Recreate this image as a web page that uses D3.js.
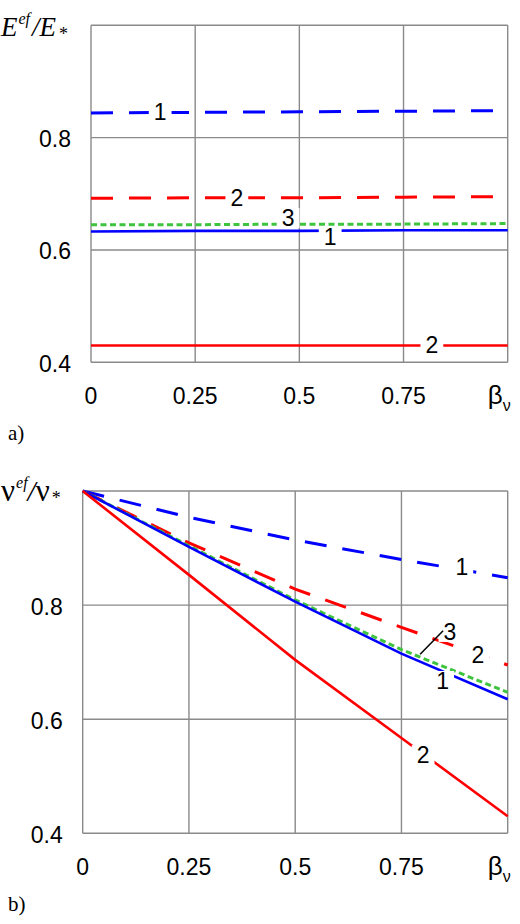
<!DOCTYPE html>
<html>
<head>
<meta charset="utf-8">
<script src="https://cdn.jsdelivr.net/npm/d3@7"></script>
<style>
  body { margin: 0; background: #fff; }
  svg { display: block; }
  .tick { font-family: "Liberation Sans", Arial, sans-serif; font-size: 23px; fill: #000; }
  .serif { font-family: "Liberation Serif", "Times New Roman", serif; fill: #000; }
</style>
</head>
<body>
<svg id="chart" width="520" height="924"></svg>
<script>
// beta_nu values where the curves were read
var beta = [0, 0.25, 0.5, 0.75, 1];
var xTicks = [0, 0.25, 0.5, 0.75];
var xGrid = [0, 0.25, 0.5, 0.75, 1];
var yTicks = [0.4, 0.6, 0.8];
var yGrid = [0.4, 0.6, 0.8, 1.0];

// panel a) E_ef / E_*
var eBlueDash = [0.844, 0.845, 0.846, 0.847, 0.848];
var eRedDash = [0.692, 0.693, 0.693, 0.694, 0.695];
var eGreenDash = [0.645, 0.645, 0.646, 0.646, 0.647];
var eBlue = [0.633, 0.634, 0.634, 0.635, 0.635];
var eRed = [0.430, 0.430, 0.430, 0.430, 0.430];

// panel b) nu_ef / nu_*
var nuBlueDash = [1, 0.954, 0.914, 0.880, 0.848];
var nuRedDash = [1, 0.909, 0.828, 0.761, 0.695];
var nuGreenDash = [1, 0.904, 0.809, 0.722, 0.647];
var nuBlue = [1, 0.902, 0.806, 0.715, 0.635];
var nuRed = [1, 0.853, 0.704, 0.567, 0.430];

// curve labels: [text, beta, value]
var eLabels = [["1", 0.166, 0.845], ["2", 0.35, 0.693], ["3", 0.473, 0.657],
               ["1", 0.574, 0.623], ["2", 0.818, 0.431]];
var nuLabels = [["1", 0.892, 0.867], ["3", 0.864, 0.753], ["2", 0.930, 0.713],
                ["1", 0.847, 0.667], ["2", 0.801, 0.537]];
var nuLeader = [[0.848, 0.755], [0.794, 0.714]];

var BLUE = "#0000ff", RED = "#ff0000", GREEN = "#3ec43e";

function styles() {
    return [
        {color: BLUE, dash: "22,16", width: 3},
        {color: RED, dash: "22,16", width: 3},
        {color: GREEN, dash: "6,3.5", width: 3},
        {color: BLUE, dash: null, width: 2.6},
        {color: RED, dash: null, width: 2.6}
    ];
}

function drawPanel(svg, p) {
    var x = d3.scaleLinear().domain([0, 1]).range([p.left, p.right]);
    var y = d3.scaleLinear().domain([0.4, 1.0]).range([p.bottom, p.top]);
    var g = svg.append("g");

    // grid
    g.selectAll(".vgrid").data(xGrid).enter().append("line")
        .attr("x1", function(d) { return x(d); }).attr("x2", function(d) { return x(d); })
        .attr("y1", p.top).attr("y2", p.bottom)
        .attr("stroke", "#8a8a8a").attr("stroke-width", 1.4);
    g.selectAll(".hgrid").data(yGrid).enter().append("line")
        .attr("x1", p.left).attr("x2", p.right)
        .attr("y1", function(d) { return y(d); }).attr("y2", function(d) { return y(d); })
        .attr("stroke", "#8a8a8a").attr("stroke-width", 1.4);

    // tick labels
    g.selectAll(".ytick").data(yTicks).enter().append("text")
        .attr("class", "tick")
        .attr("x", p.left - 20).attr("y", function(d) { return y(d) + 9.5; })
        .attr("text-anchor", "end")
        .text(function(d) { return d3.format(".1f")(d); });
    g.selectAll(".xtick").data(xTicks).enter().append("text")
        .attr("class", "tick")
        .attr("x", function(d) { return x(d); }).attr("y", p.bottom + 42)
        .attr("text-anchor", "middle")
        .text(function(d) { return String(d); });

    var bl = g.append("text").attr("class", "tick")
        .attr("x", x(1) - 20).attr("y", p.bottom + 42);
    bl.append("tspan").text("β").style("font-size", "26px");
    bl.append("tspan").text("ν").attr("dy", 7).style("font-size", "16px");

    // curves
    var line = d3.line()
        .x(function(d, i) { return x(beta[i]); })
        .y(function(d) { return y(d); });
    var st = styles();
    p.series.forEach(function(s, i) {
        g.append("path")
            .attr("d", line(s))
            .attr("fill", "none")
            .attr("stroke", st[i].color)
            .attr("stroke-width", st[i].width)
            .attr("stroke-dasharray", st[i].dash);
    });

    // curve labels with white gap behind
    p.labels.forEach(function(l) {
        var t = g.append("text").attr("class", "tick")
            .attr("x", x(l[1])).attr("y", y(l[2]))
            .attr("text-anchor", "middle")
            .attr("dominant-baseline", "central")
            .text(l[0]);
        var b = t.node().getBBox();
        g.insert("rect", function() { return t.node(); })
            .attr("x", b.x - 5).attr("y", b.y + 3)
            .attr("width", b.width + 10).attr("height", b.height - 6)
            .attr("fill", "#fff");
    });

    if (p.leader) {
        g.append("line")
            .attr("x1", x(p.leader[0][0])).attr("y1", y(p.leader[0][1]))
            .attr("x2", x(p.leader[1][0])).attr("y2", y(p.leader[1][1]))
            .attr("stroke", "#000").attr("stroke-width", 1.5);
    }
    return g;
}

var svg = d3.select("#chart");

drawPanel(svg, {
    left: 91, right: 507.7, top: 25.3, bottom: 362.3,
    series: [eBlueDash, eRedDash, eGreenDash, eBlue, eRed],
    labels: eLabels
});

drawPanel(svg, {
    left: 82.7, right: 507.7, top: 491, bottom: 833.3,
    series: [nuBlueDash, nuRedDash, nuGreenDash, nuBlue, nuRed],
    labels: nuLabels,
    leader: nuLeader
});

// axis titles
var tA = svg.append("text").attr("class", "serif").attr("x", 1).attr("y", 36)
    .style("font-style", "italic");
tA.append("tspan").text("E").style("font-size", "27px");
tA.append("tspan").text("ef").attr("dy", -12).attr("dx", 1).style("font-size", "16px");
tA.append("tspan").text("/").attr("dy", 12).attr("dx", 2).style("font-size", "27px");
tA.append("tspan").text("E").style("font-size", "27px");
tA.append("tspan").text("*").attr("dy", 4).attr("dx", 3).style("font-size", "18px").style("font-style", "normal");

var tB = svg.append("text").attr("class", "serif").attr("x", 1).attr("y", 501);
tB.append("tspan").text("ν").style("font-size", "31px");
tB.append("tspan").text("ef").attr("dy", -13).attr("dx", 1).style("font-size", "16px").style("font-style", "italic");
tB.append("tspan").text("/").attr("dy", 13).style("font-size", "29px").style("font-style", "italic");
tB.append("tspan").text("ν").style("font-size", "31px");
tB.append("tspan").text("*").attr("dy", 3).attr("dx", 2).style("font-size", "18px");

svg.append("text").attr("class", "serif").attr("x", 8).attr("y", 440)
    .style("font-size", "21px").text("a)");
svg.append("text").attr("class", "serif").attr("x", 8).attr("y", 911)
    .style("font-size", "21px").text("b)");
</script>
</body>
</html>
